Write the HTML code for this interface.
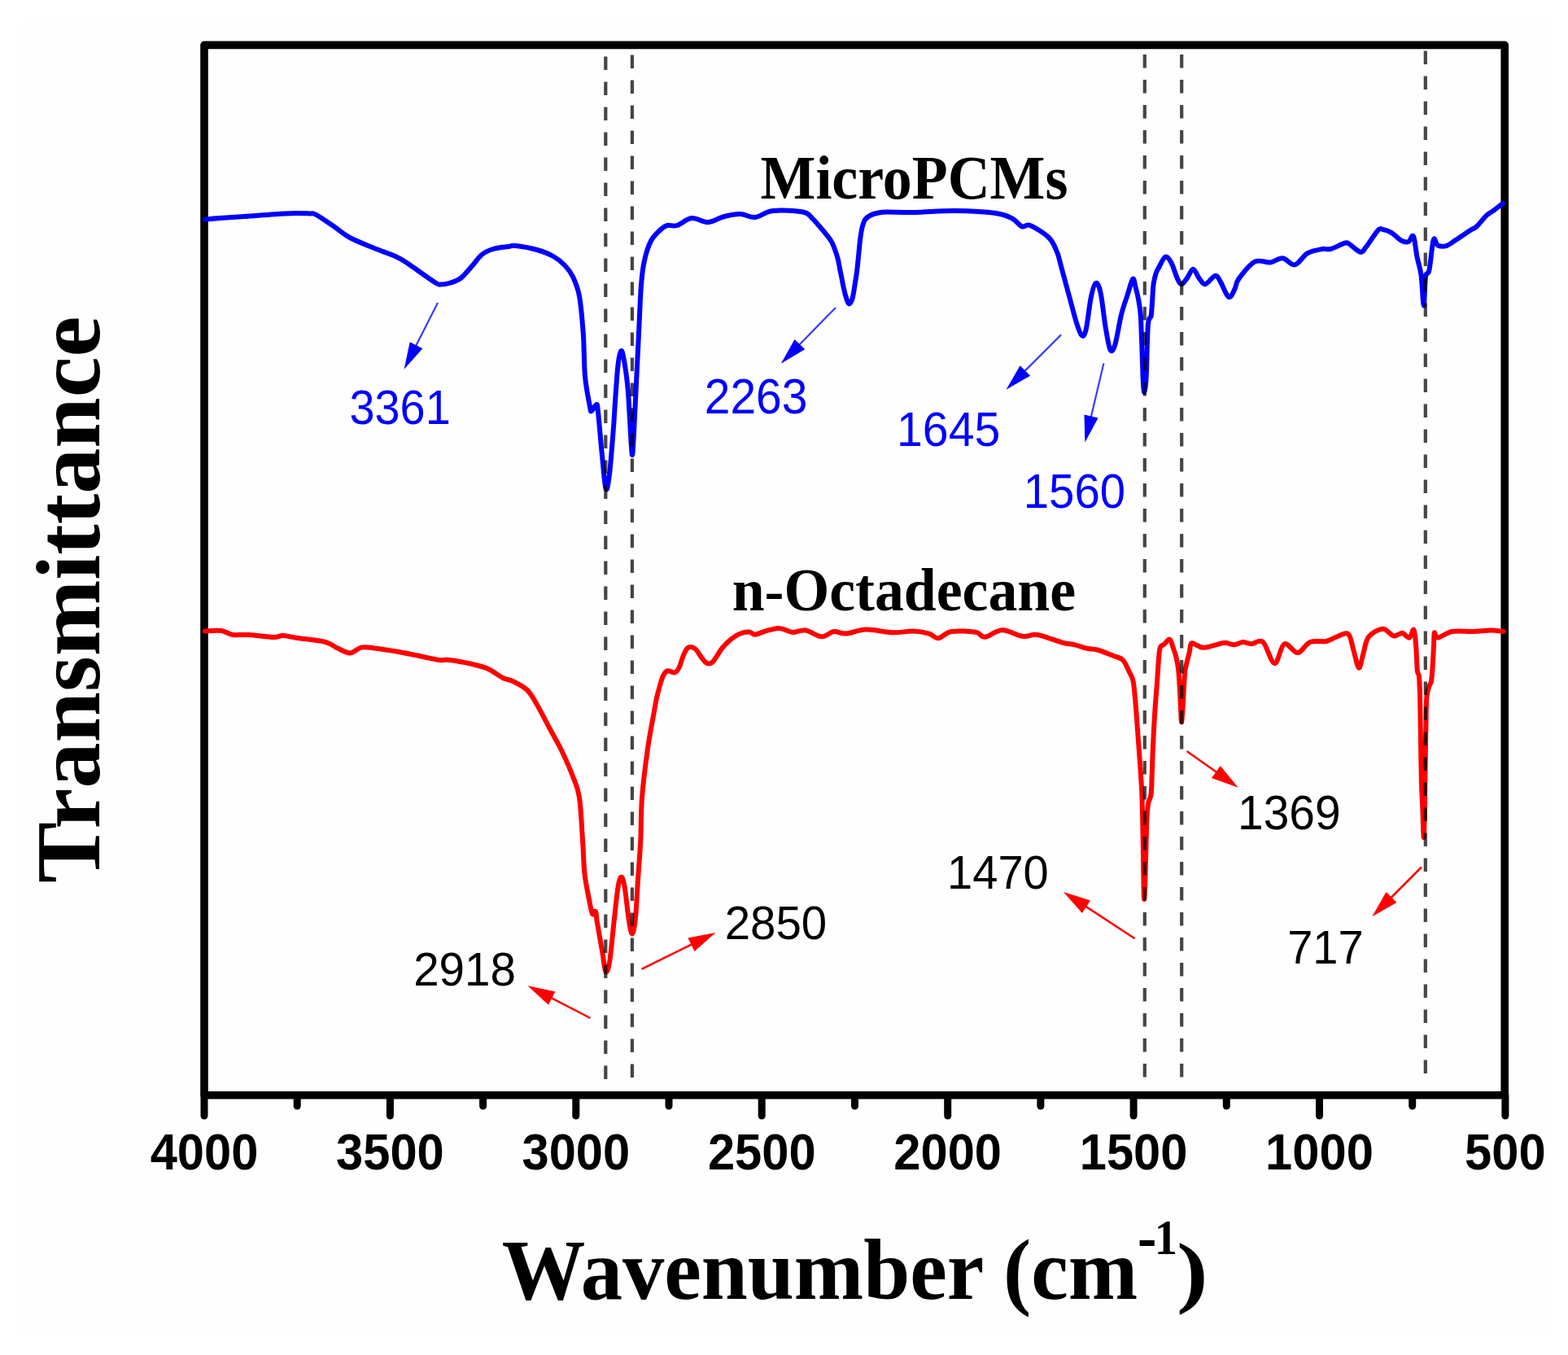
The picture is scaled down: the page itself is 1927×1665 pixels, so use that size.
<!DOCTYPE html>
<html><head><meta charset="utf-8"><title>FTIR spectra</title>
<style>html,body{margin:0;padding:0;background:#ffffff;}svg{display:block;}</style>
</head><body>
<svg width="1927" height="1665" viewBox="0 0 1927 1665">
<rect width="1927" height="1665" fill="#ffffff"/>
<rect x="23" y="23" width="1882" height="1622" fill="#fefefe"/>
<rect x="251.0" y="55.4" width="1598.2" height="1290.4" fill="none" stroke="#000" stroke-width="9.6" stroke-linejoin="round"/>
<line x1="251.0" y1="1345.8" x2="251.0" y2="1371" stroke="#000" stroke-width="9" stroke-linecap="round"/><line x1="365.2" y1="1345.8" x2="365.2" y2="1359" stroke="#000" stroke-width="9" stroke-linecap="round"/><line x1="479.4" y1="1345.8" x2="479.4" y2="1371" stroke="#000" stroke-width="9" stroke-linecap="round"/><line x1="593.6" y1="1345.8" x2="593.6" y2="1359" stroke="#000" stroke-width="9" stroke-linecap="round"/><line x1="707.8" y1="1345.8" x2="707.8" y2="1371" stroke="#000" stroke-width="9" stroke-linecap="round"/><line x1="822.0" y1="1345.8" x2="822.0" y2="1359" stroke="#000" stroke-width="9" stroke-linecap="round"/><line x1="936.2" y1="1345.8" x2="936.2" y2="1371" stroke="#000" stroke-width="9" stroke-linecap="round"/><line x1="1050.5" y1="1345.8" x2="1050.5" y2="1359" stroke="#000" stroke-width="9" stroke-linecap="round"/><line x1="1164.7" y1="1345.8" x2="1164.7" y2="1371" stroke="#000" stroke-width="9" stroke-linecap="round"/><line x1="1278.9" y1="1345.8" x2="1278.9" y2="1359" stroke="#000" stroke-width="9" stroke-linecap="round"/><line x1="1393.1" y1="1345.8" x2="1393.1" y2="1371" stroke="#000" stroke-width="9" stroke-linecap="round"/><line x1="1507.3" y1="1345.8" x2="1507.3" y2="1359" stroke="#000" stroke-width="9" stroke-linecap="round"/><line x1="1621.5" y1="1345.8" x2="1621.5" y2="1371" stroke="#000" stroke-width="9" stroke-linecap="round"/><line x1="1735.7" y1="1345.8" x2="1735.7" y2="1359" stroke="#000" stroke-width="9" stroke-linecap="round"/><line x1="1849.9" y1="1345.8" x2="1849.9" y2="1371" stroke="#000" stroke-width="9" stroke-linecap="round"/>
<path d="M252.0,269.6 C255.0,269.3 262.0,268.6 270.0,268.0 C278.0,267.4 286.7,266.9 300.0,266.0 C313.3,265.1 336.7,263.0 350.0,262.4 C363.3,261.8 373.7,262.2 380.0,262.4 C386.3,262.6 383.0,261.0 388.0,263.6 C393.0,266.2 403.0,273.3 410.0,278.0 C417.0,282.7 421.7,287.5 430.0,292.0 C438.3,296.5 450.7,301.2 460.0,305.0 C469.3,308.8 479.3,312.0 486.0,315.0 C492.7,318.0 494.3,319.3 500.0,323.0 C505.7,326.7 514.0,332.8 520.0,337.0 C526.0,341.2 532.3,345.9 536.0,348.0 C539.7,350.1 539.3,349.6 542.0,349.6 C544.7,349.6 548.0,349.3 552.0,348.0 C556.0,346.7 561.3,345.5 566.0,342.0 C570.7,338.5 575.7,331.8 580.0,327.0 C584.3,322.2 587.7,316.5 592.0,313.0 C596.3,309.5 600.5,307.7 606.0,306.0 C611.5,304.3 620.3,303.7 625.0,303.0 C629.7,302.3 628.2,301.3 634.0,302.0 C639.8,302.7 652.3,304.8 660.0,307.0 C667.7,309.2 674.3,311.8 680.0,315.0 C685.7,318.2 690.0,321.8 694.0,326.0 C698.0,330.2 701.0,333.7 704.0,340.0 C707.0,346.3 709.9,352.3 712.0,364.0 C714.1,375.7 715.6,393.6 716.8,410.0 C718.0,426.4 717.6,447.6 719.0,462.6 C720.4,477.6 723.7,492.9 725.0,500.0 C726.3,507.1 725.7,505.5 727.0,505.0 C728.3,504.5 731.7,496.8 733.0,497.0 C734.3,497.2 733.8,495.5 735.0,506.0 C736.2,516.5 738.4,544.2 740.0,560.0 C741.6,575.8 743.1,596.9 744.6,600.7 C746.1,604.5 747.5,594.5 749.0,582.7 C750.5,570.9 752.3,546.3 753.6,530.0 C754.9,513.7 755.6,498.7 756.6,485.0 C757.6,471.3 758.5,456.6 759.6,447.6 C760.7,438.6 762.1,431.8 763.3,431.0 C764.5,430.2 765.6,435.2 767.0,443.0 C768.4,450.8 770.5,466.1 771.6,477.6 C772.7,489.1 772.9,498.5 773.8,512.0 C774.7,525.5 775.9,555.7 776.8,558.7 C777.7,561.7 778.2,544.8 779.1,530.0 C780.0,515.2 781.0,490.0 782.0,470.0 C783.0,450.0 784.0,430.0 785.0,410.0 C786.0,390.0 786.8,365.0 788.0,350.0 C789.2,335.0 790.0,329.0 792.0,320.0 C794.0,311.0 796.7,302.3 800.0,296.0 C803.3,289.7 808.7,285.2 812.0,282.0 C815.3,278.8 816.7,277.8 820.0,277.0 C823.3,276.2 827.0,278.5 832.0,277.0 C837.0,275.5 843.7,268.7 850.0,268.0 C856.3,267.3 863.3,273.3 870.0,273.0 C876.7,272.7 883.3,267.7 890.0,266.0 C896.7,264.3 903.7,262.8 910.0,263.0 C916.3,263.2 921.3,267.7 928.0,267.0 C934.7,266.3 940.2,260.1 950.0,259.0 C959.8,257.9 978.9,258.9 987.0,260.5 C995.1,262.1 995.1,265.6 998.4,268.5 C1001.7,271.4 1004.0,274.6 1006.8,277.8 C1009.6,281.0 1012.7,284.6 1015.2,287.8 C1017.7,291.0 1020.2,293.9 1022.0,297.1 C1023.8,300.3 1025.0,303.8 1026.2,307.2 C1027.5,310.6 1028.5,313.5 1029.5,317.3 C1030.5,321.1 1031.2,325.7 1032.0,329.9 C1032.8,334.1 1033.8,338.3 1034.6,342.5 C1035.4,346.7 1036.1,351.0 1037.1,355.1 C1038.0,359.2 1039.2,363.9 1040.3,367.0 C1041.4,370.1 1042.4,373.4 1043.6,373.4 C1044.8,373.4 1046.4,370.7 1047.5,367.0 C1048.6,363.3 1049.5,356.5 1050.4,351.0 C1051.3,345.5 1052.1,341.0 1053.0,334.0 C1053.9,327.0 1054.9,316.0 1055.6,309.0 C1056.3,302.0 1056.7,297.1 1057.4,292.0 C1058.1,286.9 1058.8,282.2 1059.8,278.5 C1060.8,274.8 1061.5,272.1 1063.2,269.8 C1064.9,267.5 1067.4,265.8 1069.9,264.5 C1072.4,263.2 1075.0,262.5 1078.3,261.8 C1081.6,261.1 1082.4,260.6 1090.0,260.5 C1097.6,260.4 1110.0,261.2 1124.0,261.0 C1138.0,260.8 1157.3,258.8 1174.0,259.0 C1190.7,259.2 1212.3,260.4 1224.0,262.0 C1235.7,263.6 1238.7,265.8 1244.0,268.5 C1249.3,271.2 1252.3,277.0 1256.0,278.4 C1259.7,279.8 1260.5,274.7 1266.0,277.0 C1271.5,279.3 1283.5,286.6 1289.0,292.0 C1294.5,297.4 1296.4,303.3 1299.0,309.6 C1301.6,315.9 1302.3,321.1 1304.8,330.0 C1307.2,338.9 1310.7,351.9 1313.7,362.8 C1316.7,373.8 1320.1,387.5 1322.7,395.7 C1325.3,403.9 1327.4,410.7 1329.4,412.2 C1331.4,413.7 1332.8,412.4 1334.7,404.7 C1336.6,397.0 1338.7,375.3 1340.7,365.8 C1342.7,356.3 1344.6,348.9 1346.6,347.9 C1348.6,346.9 1350.6,350.8 1352.6,359.8 C1354.6,368.8 1356.6,390.0 1358.6,401.7 C1360.6,413.4 1362.6,426.5 1364.6,430.0 C1366.6,433.5 1368.4,429.8 1370.6,422.6 C1372.8,415.4 1375.5,396.7 1378.0,386.7 C1380.5,376.7 1383.1,370.1 1385.5,362.8 C1387.9,355.5 1390.5,344.4 1392.2,342.8 C1393.9,341.2 1394.4,348.7 1395.6,353.0 C1396.8,357.3 1398.2,362.7 1399.2,368.5 C1400.2,374.3 1401.2,379.7 1401.8,387.7 C1402.4,395.7 1402.6,406.9 1403.0,416.5 C1403.4,426.1 1403.7,436.1 1404.0,445.4 C1404.3,454.6 1404.6,465.9 1405.0,472.0 C1405.4,478.1 1405.9,482.3 1406.4,482.0 C1406.9,481.7 1407.8,474.5 1408.2,470.0 C1408.6,465.5 1408.7,462.3 1409.0,455.0 C1409.3,447.7 1409.5,435.2 1409.8,426.0 C1410.1,416.8 1410.4,405.8 1410.8,400.0 C1411.2,394.2 1411.8,393.4 1412.4,391.5 C1413.0,389.6 1414.0,391.5 1414.6,388.5 C1415.2,385.5 1415.4,379.9 1415.9,373.3 C1416.4,366.8 1416.8,355.4 1417.6,349.2 C1418.4,342.9 1419.5,339.2 1420.6,335.8 C1421.7,332.4 1422.1,332.4 1424.0,329.0 C1425.9,325.6 1429.4,316.8 1431.9,315.7 C1434.5,314.6 1436.8,318.0 1439.3,322.4 C1441.8,326.8 1444.7,337.4 1446.8,341.9 C1448.9,346.4 1450.0,349.3 1452.0,349.3 C1454.0,349.3 1456.4,345.0 1458.8,341.9 C1461.2,338.8 1463.8,330.7 1466.3,330.7 C1468.8,330.7 1471.2,338.8 1473.7,341.9 C1476.2,345.0 1478.0,349.8 1481.2,349.3 C1484.5,348.8 1490.2,339.6 1493.2,338.9 C1496.2,338.2 1496.7,340.9 1499.2,344.9 C1501.7,348.9 1505.9,359.6 1508.1,362.8 C1510.3,366.0 1510.9,365.8 1512.6,364.3 C1514.2,362.8 1516.4,357.4 1518.0,353.8 C1519.6,350.2 1518.4,348.0 1522.4,342.6 C1526.4,337.2 1535.4,325.1 1541.9,321.7 C1548.4,318.3 1555.6,323.1 1561.3,322.4 C1567.0,321.6 1571.3,316.7 1576.3,317.2 C1581.3,317.7 1586.1,326.4 1591.2,325.4 C1596.3,324.4 1601.3,314.4 1606.9,311.2 C1612.5,308.0 1620.2,306.9 1624.9,306.0 C1629.6,305.1 1630.6,307.2 1635.3,306.0 C1640.0,304.8 1649.3,299.4 1653.3,298.5 C1657.3,297.6 1656.2,298.8 1659.3,300.7 C1662.4,302.6 1668.8,309.2 1672.0,309.7 C1675.2,310.2 1675.1,308.2 1678.7,303.7 C1682.3,299.2 1690.1,286.4 1693.6,282.8 C1697.1,279.2 1696.9,281.5 1699.6,282.0 C1702.3,282.5 1706.3,283.6 1710.0,285.8 C1713.7,288.1 1718.5,293.6 1722.0,295.5 C1725.5,297.4 1728.5,297.9 1731.0,297.0 C1733.5,296.1 1735.2,287.2 1737.0,290.3 C1738.8,293.4 1739.9,307.8 1741.5,315.7 C1743.1,323.6 1745.1,328.0 1746.5,338.0 C1747.9,348.0 1748.8,375.2 1749.7,375.5 C1750.6,375.8 1750.9,346.8 1752.0,339.6 C1753.1,332.4 1754.8,339.6 1756.4,332.1 C1758.0,324.6 1760.0,299.9 1761.7,294.8 C1763.5,289.7 1764.3,300.3 1766.9,301.5 C1769.5,302.7 1773.7,303.3 1777.4,302.2 C1781.1,301.1 1784.3,298.0 1789.3,294.8 C1794.3,291.6 1803.0,285.6 1807.3,282.8 C1811.5,280.1 1811.6,281.3 1814.8,278.3 C1818.0,275.3 1823.5,268.0 1826.7,264.9 C1829.9,261.8 1830.8,262.1 1834.2,259.6 C1837.6,257.1 1844.8,251.5 1846.9,249.9" fill="none" stroke="#0000ff" stroke-width="6.0" stroke-linejoin="round" stroke-linecap="round"/>
<path d="M252.0,775.6 C255.3,775.5 266.3,774.3 272.0,775.0 C277.7,775.7 280.3,779.2 286.0,780.0 C291.7,780.8 297.7,779.5 306.0,780.0 C314.3,780.5 329.0,782.8 336.0,783.0 C343.0,783.2 343.0,780.8 348.0,781.0 C353.0,781.2 357.3,782.7 366.0,784.0 C374.7,785.3 392.0,787.0 400.0,789.0 C408.0,791.0 409.0,793.8 414.0,796.0 C419.0,798.2 425.0,802.5 430.0,802.4 C435.0,802.3 439.0,796.6 444.0,795.6 C449.0,794.6 452.3,795.5 460.0,796.4 C467.7,797.3 480.0,799.2 490.0,801.0 C500.0,802.8 511.7,805.3 520.0,807.0 C528.3,808.7 534.7,810.3 540.0,811.0 C545.3,811.7 545.3,810.2 552.0,811.0 C558.7,811.8 572.0,814.2 580.0,816.0 C588.0,817.8 593.7,819.2 600.0,822.0 C606.3,824.8 613.0,830.5 618.0,833.0 C623.0,835.5 625.0,834.5 630.0,837.0 C635.0,839.5 643.0,843.2 648.0,848.0 C653.0,852.8 655.3,858.0 660.0,866.0 C664.7,874.0 671.0,886.7 676.0,896.0 C681.0,905.3 685.3,912.3 690.0,922.0 C694.7,931.7 700.3,944.3 704.0,954.0 C707.7,963.7 710.0,967.0 712.0,980.0 C714.0,993.0 714.9,1016.5 716.0,1032.0 C717.1,1047.5 717.1,1060.8 718.4,1073.0 C719.7,1085.2 722.4,1097.1 724.0,1105.4 C725.6,1113.7 726.7,1120.6 728.0,1123.0 C729.3,1125.4 731.0,1118.3 732.0,1120.0 C733.0,1121.7 732.4,1124.7 733.8,1133.0 C735.2,1141.3 738.5,1159.9 740.3,1170.0 C742.0,1180.1 742.8,1191.9 744.3,1193.8 C745.8,1195.7 747.4,1192.3 749.2,1181.6 C751.0,1170.9 753.1,1145.1 754.9,1129.7 C756.6,1114.3 758.2,1097.7 759.7,1089.0 C761.2,1080.3 762.4,1077.5 763.8,1077.8 C765.1,1078.1 766.3,1082.1 767.8,1090.8 C769.3,1099.5 771.2,1120.2 772.7,1129.7 C774.2,1139.2 775.4,1147.6 776.8,1147.6 C778.1,1147.6 779.6,1140.8 780.8,1129.7 C782.0,1118.6 782.9,1097.2 784.0,1081.0 C785.1,1064.8 786.5,1049.2 787.3,1032.4 C788.1,1015.6 787.5,998.7 789.0,980.0 C790.5,961.3 793.5,937.7 796.0,920.0 C798.5,902.3 802.2,884.1 804.0,874.0 C805.8,863.9 805.5,864.8 806.6,859.6 C807.7,854.4 809.4,847.8 810.8,843.0 C812.2,838.2 813.3,833.7 814.9,830.6 C816.5,827.5 817.7,825.0 820.1,824.3 C822.5,823.6 827.0,827.1 829.4,826.4 C831.8,825.7 832.9,823.7 834.6,820.2 C836.3,816.8 838.1,809.7 839.8,805.7 C841.5,801.7 843.1,798.0 845.0,796.3 C846.9,794.6 849.3,794.8 851.2,795.3 C853.1,795.8 854.5,797.1 856.4,799.4 C858.3,801.6 860.6,806.2 862.7,808.8 C864.8,811.4 866.8,814.1 868.9,815.0 C871.0,815.9 873.0,815.5 875.1,814.0 C877.2,812.5 879.2,808.7 881.3,805.7 C883.4,802.8 884.8,799.6 887.6,796.3 C890.4,793.0 894.3,788.8 897.9,785.9 C901.5,783.0 905.6,780.2 909.4,778.7 C913.2,777.2 917.7,776.4 920.8,776.6 C923.9,776.8 924.7,779.9 928.0,779.7 C931.3,779.5 935.8,776.9 940.5,775.6 C945.2,774.3 951.8,772.1 956.1,771.9 C960.4,771.7 963.3,773.6 966.4,774.5 C969.5,775.4 970.8,777.1 974.7,777.1 C978.6,777.1 984.1,773.6 990.0,774.5 C995.9,775.4 1004.0,782.0 1009.8,782.3 C1015.6,782.5 1019.8,776.6 1024.8,776.0 C1029.8,775.4 1033.1,779.0 1039.7,778.6 C1046.3,778.2 1055.0,773.8 1064.6,773.6 C1074.1,773.4 1087.4,777.0 1097.0,777.3 C1106.6,777.6 1114.5,775.4 1122.0,775.6 C1129.5,775.8 1136.6,777.2 1141.8,778.6 C1147.0,780.0 1148.4,784.7 1153.0,784.3 C1157.6,783.9 1161.5,777.2 1169.2,776.0 C1176.9,774.8 1192.2,775.7 1199.0,776.8 C1205.8,777.9 1204.9,783.2 1210.3,782.8 C1215.7,782.4 1223.8,774.5 1231.5,774.3 C1239.2,774.1 1249.8,780.9 1256.4,781.8 C1263.1,782.7 1266.8,779.7 1271.4,779.8 C1276.0,779.9 1278.0,780.6 1283.8,782.3 C1289.6,784.0 1300.0,788.1 1306.2,789.8 C1312.4,791.5 1316.2,791.1 1321.2,792.3 C1326.2,793.5 1331.5,795.8 1336.1,796.8 C1340.7,797.8 1343.2,797.0 1348.6,798.5 C1354.0,800.0 1363.3,803.9 1368.5,806.0 C1373.7,808.1 1376.7,807.6 1380.0,811.0 C1383.3,814.4 1386.1,822.2 1388.2,826.5 C1390.3,830.8 1391.4,831.1 1392.6,837.0 C1393.8,842.9 1394.3,850.7 1395.3,861.6 C1396.3,872.5 1397.4,888.8 1398.4,902.4 C1399.4,916.0 1400.6,931.4 1401.4,943.3 C1402.2,955.2 1402.8,963.7 1403.3,973.9 C1403.8,984.1 1403.8,992.6 1404.1,1004.5 C1404.4,1016.4 1404.7,1031.7 1404.9,1045.3 C1405.1,1058.9 1405.3,1076.0 1405.5,1086.0 C1405.7,1096.0 1405.9,1105.0 1406.2,1105.0 C1406.5,1105.0 1406.9,1096.0 1407.2,1086.0 C1407.5,1076.0 1407.9,1058.5 1408.3,1045.0 C1408.7,1031.5 1409.0,1014.7 1409.5,1005.0 C1410.0,995.3 1410.4,991.8 1411.2,987.0 C1412.0,982.2 1413.8,982.2 1414.6,976.0 C1415.4,969.8 1415.4,958.9 1415.8,950.0 C1416.2,941.1 1416.2,934.2 1416.7,922.9 C1417.2,911.6 1418.0,895.6 1418.8,882.0 C1419.6,868.4 1420.9,853.1 1421.8,841.2 C1422.7,829.3 1423.2,818.2 1423.9,810.6 C1424.6,803.0 1424.7,798.5 1425.9,795.3 C1427.1,792.1 1429.1,793.1 1431.0,791.5 C1432.9,789.9 1435.6,784.6 1437.5,785.6 C1439.4,786.6 1440.8,793.4 1442.2,797.3 C1443.6,801.2 1444.8,804.4 1445.8,809.0 C1446.8,813.6 1447.7,818.2 1448.4,824.7 C1449.1,831.2 1449.5,840.3 1449.9,848.1 C1450.4,855.9 1450.8,865.0 1451.1,871.6 C1451.4,878.2 1451.6,887.5 1452.0,887.5 C1452.4,887.5 1453.0,878.2 1453.5,871.6 C1454.0,865.0 1454.3,855.9 1454.8,848.1 C1455.3,840.3 1455.6,830.6 1456.3,824.7 C1457.0,818.9 1457.9,816.9 1458.8,813.0 C1459.7,809.1 1461.0,804.8 1461.7,801.3 C1462.5,797.8 1462.7,793.7 1463.3,791.9 C1463.9,790.1 1464.2,790.0 1465.6,790.3 C1467.0,790.5 1469.6,792.5 1471.9,793.4 C1474.2,794.3 1475.9,796.0 1479.7,795.8 C1483.5,795.6 1490.2,793.3 1494.5,792.3 C1498.8,791.3 1501.8,789.7 1505.4,789.7 C1509.0,789.7 1512.7,792.4 1516.3,792.3 C1519.9,792.2 1523.6,789.2 1527.2,789.0 C1530.8,788.8 1533.8,791.2 1538.0,791.2 C1542.2,791.2 1547.5,785.0 1552.2,789.0 C1556.9,793.0 1562.0,814.8 1566.4,815.2 C1570.8,815.6 1573.7,793.4 1578.4,791.2 C1583.1,789.0 1589.5,802.5 1594.8,802.1 C1600.1,801.7 1604.2,791.4 1610.0,789.0 C1615.8,786.6 1624.1,789.1 1629.6,788.0 C1635.0,786.9 1638.2,784.0 1642.7,782.5 C1647.2,781.0 1653.5,776.5 1656.9,779.2 C1660.4,781.9 1661.2,791.9 1663.4,798.8 C1665.6,805.7 1668.0,819.9 1670.0,820.6 C1672.0,821.3 1673.4,809.6 1675.4,803.2 C1677.4,796.9 1678.0,787.6 1682.0,782.5 C1686.0,777.4 1694.3,772.9 1699.4,772.7 C1704.5,772.5 1708.5,780.5 1712.5,781.4 C1716.5,782.3 1720.0,777.7 1723.3,778.1 C1726.5,778.5 1729.6,784.3 1732.0,783.6 C1734.4,782.9 1736.1,772.1 1737.5,773.8 C1738.9,775.5 1739.5,785.3 1740.2,793.7 C1740.9,802.1 1741.2,817.7 1741.8,824.0 C1742.4,830.3 1743.4,825.3 1744.0,831.5 C1744.6,837.7 1744.9,847.7 1745.2,861.0 C1745.5,874.3 1745.7,894.7 1746.0,911.5 C1746.3,928.3 1746.5,948.0 1746.9,962.0 C1747.3,976.0 1748.0,984.5 1748.4,995.7 C1748.9,1006.9 1749.2,1028.3 1749.6,1029.0 C1750.0,1029.7 1750.5,1011.5 1750.8,1000.0 C1751.1,988.5 1751.1,972.0 1751.3,960.0 C1751.5,948.0 1751.6,939.7 1751.8,928.0 C1752.0,916.3 1752.1,902.0 1752.4,890.0 C1752.7,878.0 1752.7,863.8 1753.4,856.0 C1754.1,848.2 1755.6,846.2 1756.5,843.0 C1757.4,839.8 1758.3,841.0 1759.0,837.0 C1759.7,833.0 1760.1,826.2 1760.6,819.0 C1761.1,811.8 1761.6,800.9 1762.0,794.0 C1762.4,787.1 1762.0,779.2 1762.8,777.5 C1763.6,775.8 1763.4,783.9 1767.0,783.6 C1770.6,783.4 1777.2,777.3 1784.4,776.0 C1791.7,774.7 1802.5,776.3 1810.5,776.0 C1818.5,775.7 1826.1,774.4 1832.3,774.4 C1838.5,774.4 1845.0,775.7 1847.6,776.0" fill="none" stroke="#ff0000" stroke-width="6.0" stroke-linejoin="round" stroke-linecap="round"/>
<g><line x1="744.3" y1="69.5" x2="744.3" y2="1330" stroke="#000" stroke-opacity="0.73" stroke-width="4.2" stroke-dasharray="16.5 14.5"/><line x1="776.9" y1="67.5" x2="776.9" y2="1330" stroke="#000" stroke-opacity="0.73" stroke-width="4.2" stroke-dasharray="16.5 14.5"/><line x1="1406.8" y1="67.0" x2="1406.8" y2="1330" stroke="#000" stroke-opacity="0.73" stroke-width="4.2" stroke-dasharray="16.5 14.5"/><line x1="1452.2" y1="67.0" x2="1452.2" y2="1330" stroke="#000" stroke-opacity="0.73" stroke-width="4.2" stroke-dasharray="16.5 14.5"/><line x1="1751.8" y1="62.5" x2="1751.8" y2="1330" stroke="#000" stroke-opacity="0.73" stroke-width="4.2" stroke-dasharray="16.5 14.5"/></g>
<g><line x1="538.0" y1="372.0" x2="510.6" y2="426.0" stroke="#3a3aff" stroke-width="2.2"/><polygon points="496.6,453.7 503.7,420.3 519.4,428.2" fill="#0000ff"/><line x1="1027.0" y1="378.0" x2="981.5" y2="424.5" stroke="#3a3aff" stroke-width="2.2"/><polygon points="959.8,446.7 976.6,417.0 989.2,429.3" fill="#0000ff"/><line x1="1304.0" y1="411.4" x2="1258.4" y2="456.9" stroke="#3a3aff" stroke-width="2.2"/><polygon points="1236.5,478.8 1253.6,449.3 1266.1,461.7" fill="#0000ff"/><line x1="1356.4" y1="446.5" x2="1340.6" y2="513.3" stroke="#3a3aff" stroke-width="2.2"/><polygon points="1333.4,543.5 1332.5,509.4 1349.6,513.4" fill="#0000ff"/></g>
<g><line x1="725.4" y1="1251.0" x2="676.4" y2="1225.7" stroke="#ff0000" stroke-width="2.5"/><polygon points="648.4,1211.3 682.4,1218.5 674.0,1234.8" fill="#ff0000"/><line x1="788.4" y1="1190.9" x2="851.2" y2="1159.9" stroke="#ff0000" stroke-width="2.5"/><polygon points="879.5,1146.0 853.5,1169.1 845.4,1152.6" fill="#ff0000"/><line x1="1394.6" y1="1153.2" x2="1333.3" y2="1113.1" stroke="#ff0000" stroke-width="2.5"/><polygon points="1306.9,1095.9 1340.0,1106.5 1329.9,1121.9" fill="#ff0000"/><line x1="1458.5" y1="923.0" x2="1496.0" y2="949.6" stroke="#ff0000" stroke-width="2.5"/><polygon points="1521.7,967.8 1489.0,955.9 1499.7,940.9" fill="#ff0000"/><line x1="1747.0" y1="1065.5" x2="1708.6" y2="1104.0" stroke="#ff0000" stroke-width="2.5"/><polygon points="1686.3,1126.3 1703.5,1096.1 1716.5,1109.1" fill="#ff0000"/></g>
<g><text transform="translate(934.58 243.50) scale(0.9397 1)" font-family='"Liberation Serif", serif' font-weight="bold" font-size="76.49" fill="#000">MicroPCMs</text><text transform="translate(899.66 750.40) scale(0.9734 1)" font-family='"Liberation Serif", serif' font-weight="bold" font-size="73.72" fill="#000">n-Octadecane</text><text transform="translate(616.76 1596.30) scale(0.9723 1)" font-family='"Liberation Serif", serif' font-weight="bold" font-size="105.50" fill="#000">Wavenumber (cm</text><text transform="translate(1397.90 1547.32) scale(0.8413 1)" font-family='"Liberation Serif", serif' font-weight="bold" font-size="83.53" fill="#000">-</text><text transform="translate(1418.68 1541.00) scale(0.9121 1)" font-family='"Liberation Serif", serif' font-weight="bold" font-size="61.97" fill="#000">1</text><text transform="translate(1446.09 1595.35) scale(1.1843 1)" font-family='"Liberation Serif", serif' font-weight="bold" font-size="97.91" fill="#000">)</text><text transform="translate(429.48 521.00) scale(0.9370 1)" font-family='"Liberation Sans", sans-serif' font-weight="normal" font-size="59.60" fill="#0000ff">3361</text><text transform="translate(865.75 507.90) scale(0.9420 1)" font-family='"Liberation Sans", sans-serif' font-weight="normal" font-size="60.45" fill="#0000ff">2263</text><text transform="translate(1102.07 547.90) scale(0.9568 1)" font-family='"Liberation Sans", sans-serif' font-weight="normal" font-size="59.75" fill="#0000ff">1645</text><text transform="translate(1257.76 623.52) scale(0.9638 1)" font-family='"Liberation Sans", sans-serif' font-weight="normal" font-size="58.47" fill="#0000ff">1560</text><text transform="translate(508.17 1211.33) scale(0.9861 1)" font-family='"Liberation Sans", sans-serif' font-weight="normal" font-size="57.34" fill="#000">2918</text><text transform="translate(890.68 1153.93) scale(0.9818 1)" font-family='"Liberation Sans", sans-serif' font-weight="normal" font-size="57.49" fill="#000">2850</text><text transform="translate(1164.09 1091.93) scale(0.9802 1)" font-family='"Liberation Sans", sans-serif' font-weight="normal" font-size="57.20" fill="#000">1470</text><text transform="translate(1521.00 1019.42) scale(0.9757 1)" font-family='"Liberation Sans", sans-serif' font-weight="normal" font-size="58.33" fill="#000">1369</text><text transform="translate(1582.14 1183.60) scale(0.9735 1)" font-family='"Liberation Sans", sans-serif' font-weight="normal" font-size="57.56" fill="#000">717</text></g>
<g><text x="0" y="0" transform="translate(251.00 1436.68) scale(0.9610 1)" text-anchor="middle" font-family='"Liberation Sans", sans-serif' font-weight="bold" font-size="62.10" fill="#000">4000</text><text x="0" y="0" transform="translate(479.42 1436.68) scale(0.9610 1)" text-anchor="middle" font-family='"Liberation Sans", sans-serif' font-weight="bold" font-size="62.10" fill="#000">3500</text><text x="0" y="0" transform="translate(707.83 1436.68) scale(0.9610 1)" text-anchor="middle" font-family='"Liberation Sans", sans-serif' font-weight="bold" font-size="62.10" fill="#000">3000</text><text x="0" y="0" transform="translate(936.25 1436.68) scale(0.9610 1)" text-anchor="middle" font-family='"Liberation Sans", sans-serif' font-weight="bold" font-size="62.10" fill="#000">2500</text><text x="0" y="0" transform="translate(1164.66 1436.68) scale(0.9610 1)" text-anchor="middle" font-family='"Liberation Sans", sans-serif' font-weight="bold" font-size="62.10" fill="#000">2000</text><text x="0" y="0" transform="translate(1393.08 1436.68) scale(0.9610 1)" text-anchor="middle" font-family='"Liberation Sans", sans-serif' font-weight="bold" font-size="62.10" fill="#000">1500</text><text x="0" y="0" transform="translate(1621.49 1436.68) scale(0.9610 1)" text-anchor="middle" font-family='"Liberation Sans", sans-serif' font-weight="bold" font-size="62.10" fill="#000">1000</text><text x="0" y="0" transform="translate(1849.90 1436.68) scale(0.9610 1)" text-anchor="middle" font-family='"Liberation Sans", sans-serif' font-weight="bold" font-size="62.10" fill="#000">500</text></g>
<text transform="translate(122.40 1085.00) rotate(-90) scale(1.0071 1)" font-family='"Liberation Serif", serif' font-weight="bold" font-size="111.50" fill="#000">Transmittance</text>
</svg>
</body></html>
